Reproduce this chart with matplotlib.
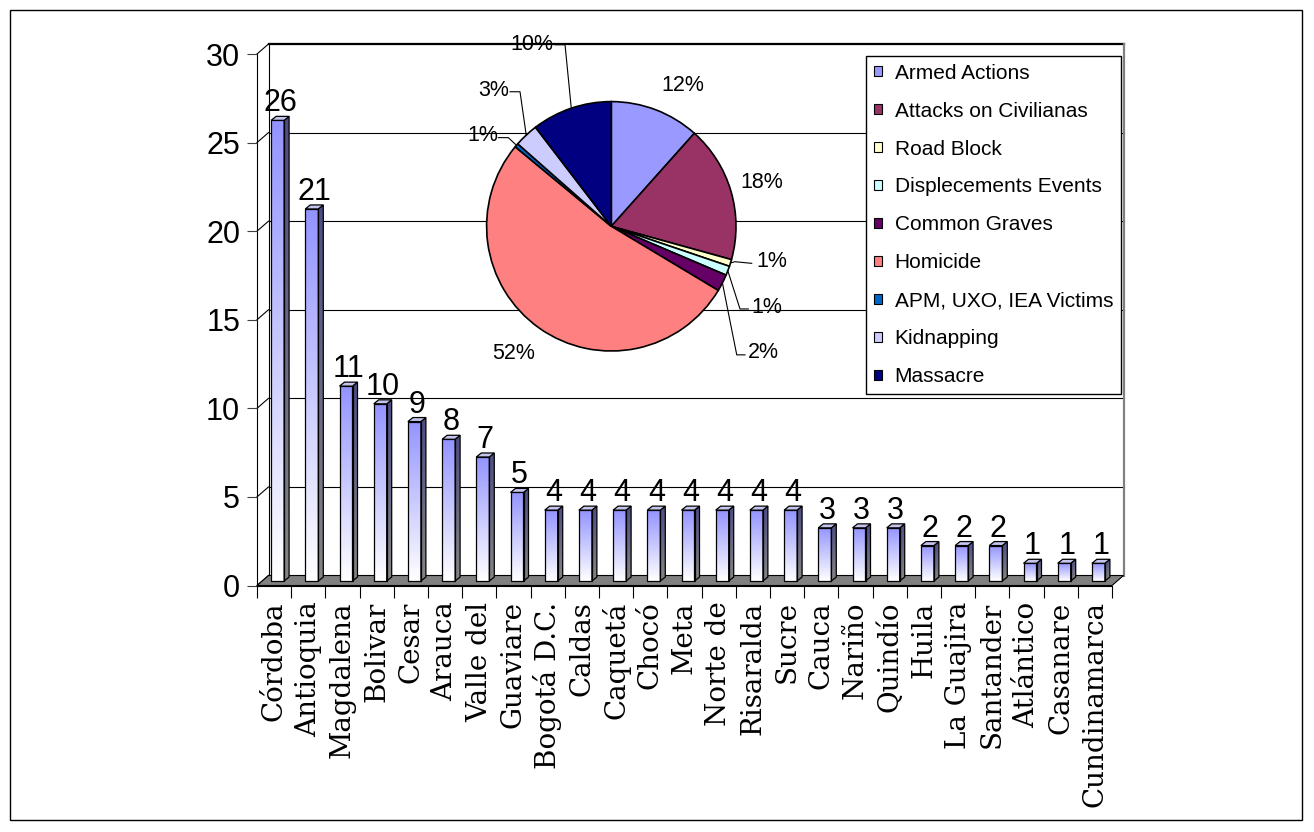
import numpy as np
import matplotlib
matplotlib.use("Agg")
import matplotlib.pyplot as plt
from matplotlib.patches import Polygon, Rectangle, Patch
from matplotlib.colors import to_rgb

# ---------------- data ----------------
departments = ["Córdoba", "Antioquia", "Magdalena", "Bolivar", "Cesar", "Arauca",
               "Valle del", "Guaviare", "Bogotá D.C.", "Caldas", "Caquetá", "Chocó",
               "Meta", "Norte de", "Risaralda", "Sucre", "Cauca", "Nariño", "Quindío",
               "Huila", "La Guajira", "Santander", "Atlántico", "Casanare", "Cundinamarca"]
events = [26, 21, 11, 10, 9, 8, 7, 5, 4, 4, 4, 4, 4, 4, 4, 4, 3, 3, 3, 2, 2, 2, 1, 1, 1]
y_ticks = [0, 5, 10, 15, 20, 25, 30]

event_types = ["Armed Actions", "Attacks on Civilianas", "Road Block",
               "Displecements Events", "Common Graves", "Homicide",
               "APM, UXO, IEA Victims", "Kidnapping", "Massacre"]
event_share = [11.6, 17.7, 0.9, 1.2, 2.2, 52.4, 0.5, 3.1, 10.4]
type_colors = ["#9999FF", "#993366", "#FFFFCC", "#CCFFFF", "#660066",
               "#FF8080", "#0066CC", "#CCCCFF", "#000080"]

plt.rcParams["font.family"] = ["Liberation Sans", "DejaVu Sans"]

W, H = 1314, 832
fig = plt.figure(figsize=(W / 100, H / 100), dpi=100)

# outer border
fig.patches.append(Rectangle((10 / W, (H - 820) / H), 1292 / W, 810 / H,
                             transform=fig.transFigure, fill=False,
                             ec="black", lw=1.0))

# ---------------- main 3-D column chart ----------------
x_left, x_right, y_bot, y_top = 257, 1112, 585.5, 54
ax = fig.add_axes([x_left / W, (H - y_bot) / H, (x_right - x_left) / W,
                   (y_bot - y_top) / H])
ax.set_xlim(-0.5, len(events) - 0.5)
ax.set_ylim(0, 30)
for s in ax.spines.values():
    s.set_visible(False)
ax.patch.set_alpha(0)

p0 = ax.transData.transform((0, 0))
p1 = ax.transData.transform((1, 1))
sx, sy = p1 - p0

WX, WY = 11.5 / sx, 10.0 / sy          # wall depth
FX, FY = 3.5 / sx, 4.5 / sy            # bar front offset
BX, BY = 5.0 / sx, 4.0 / sy            # bar depth
bw = 13.0 / sx                          # bar width

xmin, xmax = -0.5, len(events) - 0.5

# back wall gridlines + side diagonals
for t in y_ticks:
    if t > 0:
        ax.plot([xmin + WX, xmax + WX], [t + WY, t + WY], color="black",
                lw=1.6 if t == 30 else 0.8, clip_on=False, zorder=1)
    ax.plot([xmin, xmin + WX], [t, t + WY], color="black", lw=0.8,
            clip_on=False, zorder=1)
ax.plot([xmin, xmin], [0, 30], color="black", lw=0.8, clip_on=False, zorder=1)
ax.plot([xmin + WX, xmin + WX], [WY, 30 + WY], color="black", lw=0.8,
        clip_on=False, zorder=1)
ax.plot([xmax + WX, xmax + WX], [WY, 30 + WY], color="#808080", lw=1.6,
        clip_on=False, zorder=1)

# floor
ax.add_patch(Polygon([(xmin, 0), (xmax, 0), (xmax + WX, WY), (xmin + WX, WY)],
                     closed=True, fc="#808080", ec="black", lw=0.8,
                     clip_on=False, zorder=2))

top_rgb = np.array(to_rgb("#9494FF"))
bot_rgb = np.array([1.0, 1.0, 1.0])
n = 64
fr = np.linspace(0, 1, n)[:, None]
grad_front = (bot_rgb * (1 - fr) + top_rgb * fr)[:, None, :]
grad_side = grad_front * 0.52

for i, v in enumerate(events):
    x0 = i - bw / 2 + FX
    x1 = x0 + bw
    y0 = FY
    y1 = v + FY
    ax.imshow(grad_front, extent=(x0, x1, y0, y1), origin="lower",
              aspect="auto", interpolation="bilinear", zorder=3)
    ax.add_patch(Rectangle((x0, y0), bw, v, fill=False, ec="black", lw=0.9,
                           zorder=4))
    side = Polygon([(x1, y0), (x1, y1), (x1 + BX, y1 + BY), (x1 + BX, y0 + BY)],
                   closed=True, fill=False, ec="black", lw=0.9, zorder=4)
    ax.add_patch(side)
    im = ax.imshow(grad_side, extent=(x1, x1 + BX, y0, y1 + BY), origin="lower",
                   aspect="auto", interpolation="bilinear", zorder=3)
    im.set_clip_path(side)
    ax.add_patch(Polygon([(x0, y1), (x1, y1), (x1 + BX, y1 + BY),
                          (x0 + BX, y1 + BY)], closed=True, fc="#C4C4EC",
                         ec="black", lw=0.9, zorder=4))
    ax.text(i + FX + BX / 2, v + FY + BY + 5.0 / sy, str(v), ha="center",
            va="baseline", fontsize=22, zorder=5)

ax.set_xlim(xmin, xmax)
ax.set_ylim(0, 30)
ax.set_aspect("auto")

ax.set_yticks(y_ticks)
ax.set_yticklabels([str(t) for t in y_ticks])
ax.tick_params(axis="y", direction="out", length=7.2, width=0.8,
               color="#404040", labelsize=22, pad=5)
ax.set_xticks(range(len(departments)))
ax.set_xticklabels(departments, rotation=90, fontsize=20,
                   family=["DejaVu Serif"], va="top", ha="center")
ax.set_xticks(np.arange(xmin, xmax + 0.01, 1), minor=True)
ax.tick_params(axis="x", which="major", length=0, pad=11.5)
ax.tick_params(axis="x", which="minor", length=8.6, width=0.8, direction="out",
               color="black")
ax.plot([xmin, xmax], [0, 0], color="black", lw=0.8, clip_on=False, zorder=2)

# ---------------- pie ----------------
cx, cy, r = 611.3, 226.3, 124.7
pax = fig.add_axes([(cx - r) / W, (H - cy - r) / H, 2 * r / W, 2 * r / H])
wedges, _ = pax.pie(event_share, colors=type_colors, startangle=90,
                    counterclock=False,
                    wedgeprops=dict(edgecolor="black", linewidth=1.2))
pax.set_xlim(-1, 1)
pax.set_ylim(-1, 1)
pax.set_aspect("equal")
pax.axis("off")

pct_labels = ["%d%%" % int(p + 0.5) for p in event_share]
label_pos = [(0.575, 1.133), (1.208, 0.355), (1.286, -0.281), (1.246, -0.651),
             (1.223, -1.015), (-0.783, -1.018), (-1.033, 0.726), (-0.946, 1.087),
             (-0.638, 1.458)]
for lab, (lx, ly) in zip(pct_labels, label_pos):
    pax.text(lx, ly, lab, ha="center", va="center", fontsize=15.5, clip_on=False)

leaders = {2: [(1.126, -0.297), (0.992, -0.284)],
           3: [(1.099, -0.663), (1.032, -0.663)],
           4: [(1.072, -1.031), (1.006, -1.031)],
           6: [(-0.906, 0.711), (-0.826, 0.711)],
           7: [(-0.812, 1.079), (-0.732, 1.079)],
           8: [(-0.451, 1.456), (-0.371, 1.456)]}
for idx, pts in leaders.items():
    w = wedges[idx]
    mid = np.deg2rad((w.theta1 + w.theta2) / 2)
    end = (np.cos(mid), np.sin(mid))
    xs = [pts[0][0], pts[1][0], end[0]]
    ys = [pts[0][1], pts[1][1], end[1]]
    pax.plot(xs, ys, color="black", lw=0.8, clip_on=False)

# ---------------- legend ----------------
handles = [Patch(facecolor=c, edgecolor="black", lw=0.8) for c in type_colors]
leg = fig.legend(handles, event_types, loc="upper left",
                 bbox_to_anchor=(866 / W, 1 - 55.7 / H),
                 bbox_transform=fig.transFigure, frameon=True, fancybox=False,
                 edgecolor="black", framealpha=1, fontsize=15,
                 handlelength=0.4, handleheight=0.4, handletextpad=0.6,
                 labelspacing=0.91, borderpad=0.38, borderaxespad=0)
leg.get_frame().set_linewidth(1.0)

fig.savefig("out.png", dpi=100)
